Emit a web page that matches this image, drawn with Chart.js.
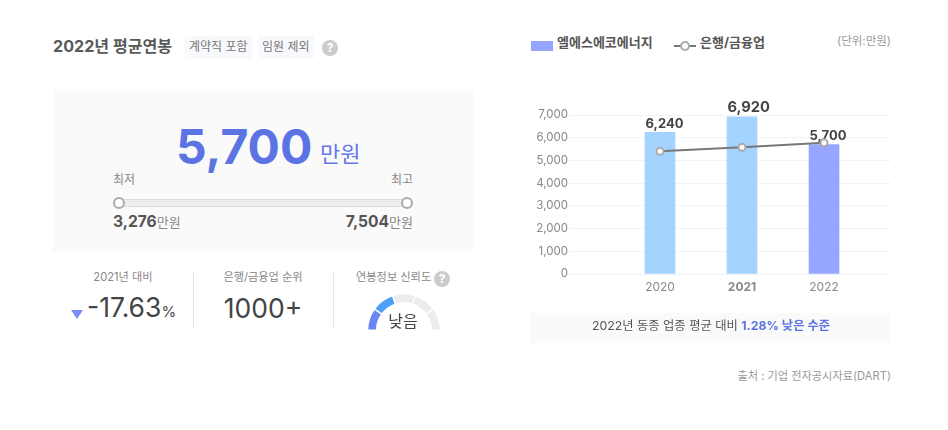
<!DOCTYPE html>
<html lang="ko">
<head>
<meta charset="utf-8">
<script src="https://cdn.jsdelivr.net/npm/chart.js@4"></script>
<style>
html, body { margin: 0; padding: 0; background: #fff; }
body { width: 948px; height: 430px; position: relative; overflow: hidden; font-family: Inter, "Noto Sans CJK KR", sans-serif; color: #555; }
.t { position: absolute; white-space: nowrap; line-height: 1; }
.box { position: absolute; }
.help { position: absolute; width: 16px; height: 16px; border-radius: 50%; background: #ccc; color: #fff; font-size: 12px; font-weight: 700; line-height: 16px; text-align: center; }
.knob { position: absolute; width: 8px; height: 8px; border: 2px solid #aaa; border-radius: 50%; background: #fff; top: 197px; }
canvas { position: absolute; }
</style>
</head>
<body>
<div class="t" style="left:53px;top:38px;font-size:16.1px;font-weight:700;color:#5a5a5a">2022년 평균연봉</div>
<div class="box" style="left:185px;top:36px;width:67px;height:23px;background:#f8f9fd"></div>
<div class="t" style="left:189px;top:41px;font-size:12px;color:#777">계약직 포함</div>
<div class="box" style="left:258px;top:36px;width:56px;height:23px;background:#f8f9fd"></div>
<div class="t" style="left:262px;top:41px;font-size:12px;color:#777">임원 제외</div>
<div class="help" style="left:322px;top:40px">?</div>

<div class="box" style="left:53px;top:89px;width:420px;height:163px;background:#fafafa"></div>
<div class="t" style="left:176px;top:122.5px;font-size:48px;font-weight:700;color:#5b73e3">5,700</div>
<div class="t" style="left:320px;top:143px;font-size:22px;color:#6478ea">만원</div>
<div class="t" style="left:113px;top:174px;font-size:12px;color:#888">최저</div>
<div class="t" style="right:535px;top:174px;font-size:12px;color:#888">최고</div>
<div class="box" style="left:119px;top:199px;width:288px;height:6px;background:#eee;border:1px solid #ddd;box-sizing:content-box"></div>
<div class="knob" style="left:113px"></div>
<div class="knob" style="left:401px"></div>
<div class="t" style="left:113px;top:214px;font-size:15.6px;font-weight:700;color:#555">3,276<span style="font-size:13px;font-weight:400;color:#888">만원</span></div>
<div class="t" style="right:535px;top:214px;font-size:15.6px;font-weight:700;color:#555">7,504<span style="font-size:13px;font-weight:400;color:#888">만원</span></div>

<div class="t" style="left:63px;width:120px;text-align:center;top:272px;font-size:11.2px;color:#888">2021년 대비</div>
<div class="box" style="left:71px;top:310px;width:0;height:0;border-left:6px solid transparent;border-right:6px solid transparent;border-top:9px solid #7b8cff"></div>
<div class="t" style="left:87px;top:294px;font-size:26.5px;color:#444">-17.63<span style="font-size:15px">%</span></div>
<div class="box" style="left:193px;top:272px;width:1px;height:56px;background:#e5e5e5"></div>
<div class="t" style="left:203px;width:120px;text-align:center;top:272px;font-size:11.2px;color:#888">은행/금융업 순위</div>
<div class="t" style="left:203px;width:120px;text-align:center;top:295px;font-size:26.5px;color:#444">1000+</div>
<div class="box" style="left:333px;top:272px;width:1px;height:56px;background:#e5e5e5"></div>
<div class="t" style="left:356px;top:272px;font-size:11.2px;color:#888">연봉정보 신뢰도</div>
<div class="help" style="left:434px;top:271px">?</div>
<canvas id="gauge" style="left:366px;top:293px;width:76px;height:38px"></canvas>
<div class="t" style="left:363px;width:80px;text-align:center;top:313px;font-size:16px;color:#444">낮음</div>

<div class="box" style="left:531px;top:41px;width:22px;height:10px;background:#96a6ff"></div>
<div class="t" style="left:557px;top:36px;font-size:13px;font-weight:700;color:#555">엘에스에코에너지</div>
<div class="box" style="left:674px;top:45px;width:22px;height:2px;background:#777"></div>
<div class="box" style="left:680px;top:41px;width:6px;height:6px;border:2px solid #aaa;border-radius:50%;background:#fff"></div>
<div class="t" style="left:700px;top:36px;font-size:13px;font-weight:700;color:#555">은행/금융업</div>
<div class="t" style="right:57px;top:36px;font-size:11.5px;color:#999">(단위:만원)</div>

<canvas id="salary" style="left:520px;top:95px;width:371px;height:205px"></canvas>

<div class="box" style="left:531px;top:313px;width:360px;height:30px;background:#fafafa"></div>
<div class="t" style="left:531px;width:360px;text-align:center;top:320px;font-size:12.3px;color:#555">2022년 동종 업종 평균 대비 <b style="color:#5b73e3">1.28% 낮은 수준</b></div>
<div class="t" style="right:57px;top:371px;font-size:11.2px;color:#999">출처 : 기업 전자공시자료(DART)</div>

<script>
const years = [2020, 2021, 2022];
const companySalary = [6240, 6920, 5700];
const industrySalary = [5400, 5580, 5774];
const barColors = ['#a5d3ff', '#a5d3ff', '#96a6ff'];
const gaugeSegments = [1, 1, 1, 1, 1];
const gaugeColors = ['#6a86f2', '#4c9ff6', '#ececec', '#ececec', '#ececec'];
const highlightYear = 2021;

const fontFamily = 'Inter, "Noto Sans CJK KR", sans-serif';

// value labels sit under the line, so draw them just before the line dataset
const barLabels = {
    id: 'barLabels',
    beforeDatasetDraw(chart, args) {
        if (args.index !== 1) return;
        const ctx = chart.ctx;
        ctx.save();
        ctx.fillStyle = '#444';
        ctx.textAlign = 'left';
        ctx.textBaseline = 'alphabetic';
        chart.getDatasetMeta(0).data.forEach((bar, i) => {
            ctx.font = '700 ' + (years[i] === highlightYear ? 14.7 : 13) + 'px ' + fontFamily;
            // labels start at the left edge of the bar in the original
            ctx.fillText(companySalary[i].toLocaleString('en-US'), bar.x - bar.width / 2 + 0.5, bar.y - 4.5);
        });
        ctx.restore();
    }
};

new Chart(document.getElementById('salary'), {
    data: {
        datasets: [{
            type: 'bar',
            label: '엘에스에코에너지',
            data: years.map((y, i) => ({ x: y, y: companySalary[i] })),
            backgroundColor: barColors,
            barThickness: 30,
            order: 2
        }, {
            type: 'line',
            label: '은행/금융업',
            data: years.map((y, i) => ({ x: y, y: industrySalary[i] })),
            borderColor: '#777',
            borderWidth: 2,
            pointRadius: 3.5,
            pointBackgroundColor: '#fff',
            pointBorderColor: '#aaa',
            pointBorderWidth: 2,
            order: 1
        }]
    },
    options: {
        responsive: false,
        animation: false,
        layout: { autoPadding: false, padding: { top: 20 } },
        plugins: { legend: { display: false }, tooltip: { enabled: false } },
        scales: {
            x: {
                type: 'linear',
                offset: false,
                min: 2018.89,
                max: 2022.817,
                afterBuildTicks: (axis) => { axis.ticks = years.map((y) => ({ value: y })); },
                afterFit: (axis) => { axis.height = 26; },
                grid: { display: false, drawTicks: false },
                border: { display: false },
                ticks: {
                    autoSkip: false,
                    maxRotation: 0,
                    padding: 6,
                    color: '#888',
                    callback: (v) => String(v),
                    font: (c) => ({ family: fontFamily, size: 12, weight: c.tick && c.tick.value === highlightYear ? '700' : '400' })
                }
            },
            y: {
                min: 0,
                max: 7000,
                afterFit: (axis) => { axis.width = 49; },
                border: { display: false },
                grid: { color: '#f3f3f3', drawTicks: false },
                ticks: {
                    stepSize: 1000,
                    padding: 1,
                    color: '#888',
                    font: { family: fontFamily, size: 11.5 },
                    callback: (v) => v.toLocaleString('en-US')
                }
            }
        }
    },
    plugins: [barLabels]
});

new Chart(document.getElementById('gauge'), {
    type: 'doughnut',
    data: {
        datasets: [{
            data: gaugeSegments,
            backgroundColor: gaugeColors,
            borderColor: '#fff',
            borderWidth: 1.5
        }]
    },
    options: {
        responsive: false,
        animation: false,
        rotation: -90,
        circumference: 180,
        cutout: '75%',
        aspectRatio: 2,
        plugins: { legend: { display: false }, tooltip: { enabled: false } }
    }
});
</script>
</body>
</html>
